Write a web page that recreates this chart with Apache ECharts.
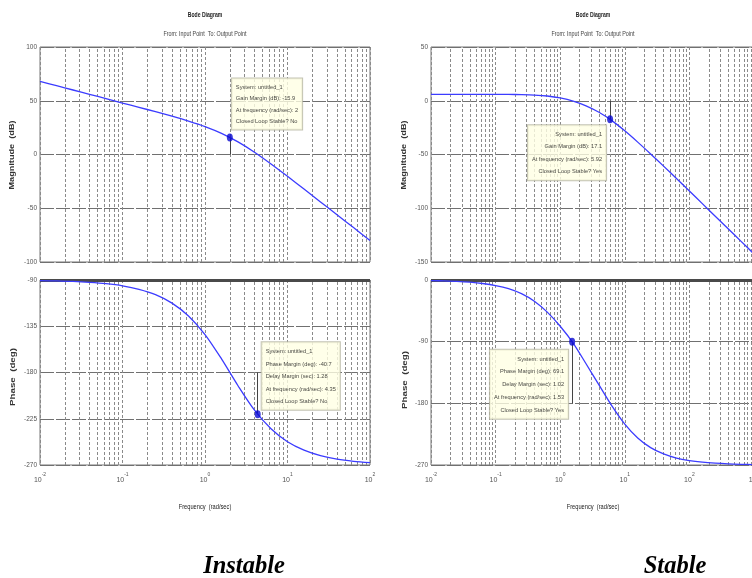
<!DOCTYPE html>
<html>
<head>
<meta charset="utf-8">
<script src="https://cdn.jsdelivr.net/npm/echarts@6/dist/echarts.min.js"></script>
<style>
  html, body { margin: 0; padding: 0; background: #fff; }
  #chart { width: 752px; height: 578px; }
</style>
</head>
<body>
<div id="chart"></div>
<script>
// Open-loop system with an integrator: unstable in closed loop (five samples per decade)
const instFreq  = [0.01, 0.01585, 0.02512, 0.03981, 0.0631, 0.1, 0.1585, 0.2512, 0.3981, 0.631, 1, 1.585, 2.512, 3.981, 6.31, 10, 15.85, 25.12, 39.81, 63.1, 100];
const instMag   = [68.0, 64.0, 60.0, 56.0, 52.0, 47.9, 43.9, 39.8, 35.6, 31.1, 26.0, 19.7, 11.7, 2.1, -8.8, -20.3, -32.1, -44.1, -56.0, -68.0, -80.0];
const instPhase = [-90.6, -90.9, -91.4, -92.3, -93.6, -95.7, -99.1, -104.3, -112.5, -125.0, -143.1, -166.8, -192.9, -216.7, -234.8, -247.4, -255.6, -260.9, -264.3, -266.4, -267.7];

// Third-order type-0 system: stable in closed loop
const stabFreq  = [0.01, 0.01585, 0.02512, 0.03981, 0.0631, 0.1, 0.1585, 0.2512, 0.3981, 0.631, 1, 1.585, 2.512, 3.981, 6.31, 10, 15.85, 25.12, 39.81, 63.1, 100, 158.5, 251.2, 398.1, 631, 1000];
const stabMag   = [6.0, 6.0, 6.0, 6.0, 6.0, 6.0, 5.9, 5.7, 5.3, 4.4, 2.6, -0.3, -4.7, -10.7, -18.5, -28.0, -38.5, -49.5, -60.8, -72.3, -84.0, -95.7, -107.4, -119.1, -130.8, -142.5];
const stabPhase = [-0.8, -1.3, -2.0, -3.2, -5.1, -8.1, -12.7, -20.0, -31.0, -46.9, -67.5, -92.0, -122.2, -153.1, -183.7, -210.3, -230.5, -244.6, -253.8, -259.8, -263.5, -265.9, -267.4, -268.4, -269.0, -269.4];

// Sub-decade (2..9) grid positions
const minorLeft  = [0.02,0.03,0.04,0.05,0.06,0.07,0.08,0.09, 0.2,0.3,0.4,0.5,0.6,0.7,0.8,0.9, 2,3,4,5,6,7,8,9, 20,30,40,50,60,70,80,90];
const minorRight = minorLeft.concat([200,300,400,500,600,700,800,900]);

// Stability margin data tips
const instGainPt   = [2, 15.9];
const instGainTip  = ['System: untitled_1', 'Gain Margin (dB): -15.9', 'At frequency (rad/sec): 2', 'Closed Loop Stable? No'];
const instPhasePt  = [4.35, -220.7];
const instPhaseTip = ['System: untitled_1', 'Phase Margin (deg): -40.7', 'Delay Margin (sec): 1.28', 'At frequency (rad/sec): 4.35', 'Closed Loop Stable? No'];
const stabGainPt   = [5.92, -17.1];
const stabGainTip  = ['System: untitled_1', 'Gain Margin (dB): 17.1', 'At frequency (rad/sec): 5.92', 'Closed Loop Stable? Yes'];
const stabPhasePt  = [1.53, -90];
const stabPhaseTip = ['System: untitled_1', 'Phase Margin (deg): 69.1', 'Delay Margin (sec): 1.02', 'At frequency (rad/sec): 1.53', 'Closed Loop Stable? Yes'];

const SANS = '"Liberation Sans", Arial, sans-serif';
const SERIF = '"Liberation Serif", "Times New Roman", serif';
const CURVE = '#3c3cff';
const GRIDC = '#8a8a8a';

const zip = (a, b) => a.map((v, i) => [v, b[i]]);

function freqAxis(gridIndex, maxF, withLabels) {
  return {
    type: 'log', logBase: 10, gridIndex: gridIndex, min: 0.01, max: maxF,
    axisLine: { show: false }, axisTick: { show: false },
    splitLine: { show: true, lineStyle: { type: [3, 2], color: GRIDC, width: 1 } },
    axisLabel: withLabels ? {
      show: true, margin: 7,
      formatter: v => '{b|10}{s|' + Math.round(Math.log10(v)) + '}',
      rich: {
        b: { fontSize: 7, fontFamily: SANS, color: '#555', lineHeight: 12, verticalAlign: 'bottom' },
        s: { fontSize: 5, fontFamily: SANS, color: '#555', lineHeight: 12, verticalAlign: 'top' }
      }
    } : { show: false }
  };
}

function valueAxis(gridIndex, min, max, interval) {
  return {
    type: 'value', gridIndex: gridIndex, min: min, max: max, interval: interval,
    axisLine: { show: false }, axisTick: { show: false },
    axisLabel: { fontSize: 6.5, fontFamily: SANS, color: '#555', margin: 3 },
    splitLine: { show: true, lineStyle: { type: [14, 2], color: '#707070', width: 1 } }
  };
}

function gridLines(minors, extra) {
  return {
    silent: true, z: 1, animation: false,
    symbol: ['none', 'none'], label: { show: false },
    lineStyle: { type: [3, 2], color: GRIDC, width: 1 },
    data: minors.map(f => ({ xAxis: f })).concat(extra)
  };
}

function marginLine(x, y0, y1) {
  return [{ coord: [x, y0], lineStyle: { type: 'solid', color: '#444', width: 1 } }, { coord: [x, y1] }];
}

function curve(xi, yi, freq, vals, markLine) {
  return {
    type: 'line', xAxisIndex: xi, yAxisIndex: yi, z: 3,
    data: zip(freq, vals), showSymbol: false, smooth: 0.3,
    lineStyle: { color: CURVE, width: 1.3 }, animation: false,
    markLine: markLine
  };
}

function tip(xi, yi, pt, lines, pos, align, lh) {
  return {
    type: 'scatter', xAxisIndex: xi, yAxisIndex: yi, z: 10, animation: false,
    data: [pt], symbol: 'circle', symbolSize: [6, 8],
    itemStyle: { color: '#0a0ad0' },
    label: {
      show: true, position: pos, align: align, verticalAlign: 'top',
      formatter: lines.join('\n'),
      fontSize: 5.7, fontFamily: SANS, color: '#111', lineHeight: lh,
      backgroundColor: '#ffffe4', borderColor: '#b4b4a0', borderWidth: 1, padding: [3, 4, 2, 4]
    }
  };
}

const thickTop = y => ({ yAxis: y, lineStyle: { type: 'solid', color: '#4a4a4a', width: 3 } });

// Text placed at (x, y); scale and rotation act around that anchor point
function caption(text, x, y, size, o) {
  o = o || {};
  return {
    type: 'text', x: x, y: y,
    scaleX: o.scaleX || 1, rotation: o.rotation || 0,
    style: {
      text: text, fontSize: size, fontFamily: SANS, fontWeight: o.bold ? 'bold' : 'normal',
      fill: o.fill || '#222', align: 'center', verticalAlign: 'middle'
    }
  };
}

const gridBase = { show: true, borderColor: '#777', borderWidth: 1, outerBoundsMode: 'none', containLabel: false };

const option = {
  backgroundColor: '#fff',
  animation: false,
  grid: [
    Object.assign({ left: 40, top: 47, width: 330, height: 215 }, gridBase),
    Object.assign({ left: 40, top: 280, width: 330, height: 185 }, gridBase),
    Object.assign({ left: 431, top: 47, width: 323, height: 215 }, gridBase),
    Object.assign({ left: 431, top: 280, width: 323, height: 185 }, gridBase)
  ],
  xAxis: [freqAxis(0, 100, false), freqAxis(1, 100, true), freqAxis(2, 1000, false), freqAxis(3, 1000, true)],
  yAxis: [
    valueAxis(0, -100, 100, 50),
    valueAxis(1, -270, -90, 45),
    valueAxis(2, -150, 50, 50),
    valueAxis(3, -270, 0, 90)
  ],
  series: [
    curve(0, 0, instFreq, instMag, gridLines(minorLeft, [marginLine(instGainPt[0], 0, instGainPt[1])])),
    curve(1, 1, instFreq, instPhase, gridLines(minorLeft, [thickTop(-90), marginLine(instPhasePt[0], -180, instPhasePt[1])])),
    curve(2, 2, stabFreq, stabMag, gridLines(minorRight, [marginLine(stabGainPt[0], 0, stabGainPt[1])])),
    curve(3, 3, stabFreq, stabPhase, gridLines(minorRight, [thickTop(0), marginLine(stabPhasePt[0], stabPhasePt[1], -180)])),
    tip(0, 0, instGainPt, instGainTip, [5, -55], 'left', 11.5),
    tip(1, 1, instPhasePt, instPhaseTip, [7, -68], 'left', 12.5),
    tip(2, 2, stabGainPt, stabGainTip, [-1, 10], 'right', 12.5),
    tip(3, 3, stabPhasePt, stabPhaseTip, [-1, 12], 'right', 12.8)
  ],
  graphic: [
    caption('Bode Diagram', 205, 15, 7.5, { scaleX: 0.68, bold: true }),
    caption('From: Input Point  To: Output Point', 205, 34, 7.5, { scaleX: 0.72, fill: '#444' }),
    caption('Bode Diagram', 593, 15, 7.5, { scaleX: 0.68, bold: true }),
    caption('From: Input Point  To: Output Point', 593, 34, 7.5, { scaleX: 0.72, fill: '#444' }),
    caption('Frequency  (rad/sec)', 205, 507, 7.5, { scaleX: 0.76 }),
    caption('Frequency  (rad/sec)', 593, 507, 7.5, { scaleX: 0.76 }),
    caption('Magnitude  (dB)', 12, 155, 7.5, { rotation: Math.PI / 2, scaleX: 1.22, bold: true, fill: '#333' }),
    caption('Phase  (deg)', 13, 377, 7.5, { rotation: Math.PI / 2, scaleX: 1.3, bold: true, fill: '#333' }),
    caption('Magnitude  (dB)', 404, 155, 7.5, { rotation: Math.PI / 2, scaleX: 1.22, bold: true, fill: '#333' }),
    caption('Phase  (deg)', 405, 380, 7.5, { rotation: Math.PI / 2, scaleX: 1.3, bold: true, fill: '#333' }),
    { type: 'text', x: 244, y: 567, style: { text: 'Instable', fontSize: 24.5, fontFamily: SERIF, fontWeight: 'bold', fontStyle: 'italic', fill: '#000', align: 'center', verticalAlign: 'middle' } },
    { type: 'text', x: 675, y: 567, style: { text: 'Stable', fontSize: 24.5, fontFamily: SERIF, fontWeight: 'bold', fontStyle: 'italic', fill: '#000', align: 'center', verticalAlign: 'middle' } }
  ]
};

const chart = echarts.init(document.getElementById('chart'), null, { renderer: 'canvas' });
chart.setOption(option);
</script>
</body>
</html>
